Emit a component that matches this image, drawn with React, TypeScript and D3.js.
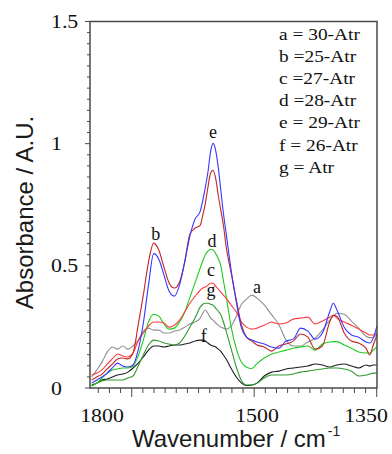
import React from 'react';
import * as d3 from 'd3';

const wavenumbers = [1820,1810,1800,1790,1780,1770,1760,1750,1740,1730,1720,1710,1700,1690,1680,1670,1660,1650,1640,1630,1620,1610,1605,1600,1595,1590,1585,1580,1575,1570,1565,1560,1550,1540,1530,1520,1510,1500,1490,1480,1470,1460,1450,1440,1430,1420,1410,1400,1395,1390,1380,1370,1360,1350,1345,1340,1335];

const seriesA = [0.045,0.074,0.106,0.147,0.168,0.159,0.172,0.159,0.172,0.196,0.233,0.245,0.237,0.237,0.225,0.225,0.233,0.237,0.249,0.262,0.270,0.286,0.306,0.319,0.306,0.286,0.278,0.266,0.257,0.249,0.245,0.241,0.253,0.294,0.343,0.364,0.380,0.368,0.340,0.300,0.260,0.196,0.172,0.172,0.188,0.204,0.237,0.278,0.294,0.306,0.302,0.274,0.245,0.212,0.206,0.208,0.221];
const seriesB = [0.033,0.045,0.057,0.078,0.098,0.119,0.123,0.119,0.143,0.257,0.380,0.515,0.593,0.564,0.494,0.429,0.409,0.433,0.515,0.629,0.654,0.666,0.707,0.756,0.821,0.879,0.891,0.858,0.789,0.727,0.666,0.584,0.470,0.360,0.257,0.208,0.192,0.176,0.168,0.151,0.172,0.180,0.192,0.221,0.208,0.159,0.172,0.270,0.298,0.294,0.225,0.192,0.184,0.163,0.135,0.176,0.217];
const seriesC = [0.053,0.061,0.074,0.098,0.119,0.139,0.131,0.127,0.143,0.192,0.225,0.253,0.270,0.270,0.266,0.249,0.257,0.278,0.311,0.347,0.375,0.400,0.409,0.413,0.421,0.429,0.429,0.417,0.405,0.392,0.380,0.368,0.339,0.311,0.270,0.249,0.241,0.245,0.257,0.270,0.262,0.266,0.282,0.286,0.290,0.262,0.274,0.290,0.298,0.286,0.270,0.257,0.241,0.225,0.217,0.217,0.225];
const seriesD = [0.008,0.020,0.041,0.061,0.074,0.078,0.082,0.082,0.090,0.131,0.196,0.270,0.302,0.294,0.262,0.241,0.245,0.270,0.310,0.370,0.430,0.490,0.520,0.545,0.560,0.568,0.566,0.550,0.530,0.500,0.440,0.380,0.250,0.160,0.105,0.085,0.080,0.100,0.123,0.139,0.147,0.155,0.163,0.168,0.172,0.155,0.180,0.188,0.190,0.190,0.176,0.163,0.147,0.143,0.143,0.155,0.168];
const seriesE = [0.020,0.033,0.045,0.061,0.082,0.102,0.090,0.086,0.094,0.155,0.266,0.421,0.550,0.527,0.462,0.396,0.376,0.421,0.515,0.621,0.691,0.723,0.768,0.821,0.883,0.965,1.001,0.973,0.903,0.809,0.715,0.638,0.482,0.351,0.245,0.208,0.196,0.188,0.180,0.168,0.163,0.192,0.200,0.245,0.233,0.200,0.225,0.311,0.347,0.319,0.249,0.217,0.208,0.188,0.184,0.204,0.253];
const seriesF = [0.012,0.020,0.033,0.037,0.045,0.053,0.057,0.065,0.082,0.102,0.127,0.155,0.172,0.172,0.168,0.172,0.176,0.176,0.180,0.184,0.192,0.196,0.196,0.192,0.184,0.176,0.172,0.168,0.159,0.150,0.135,0.120,0.080,0.045,0.020,0.010,0.012,0.020,0.049,0.065,0.069,0.078,0.082,0.086,0.090,0.098,0.094,0.086,0.090,0.094,0.098,0.090,0.082,0.094,0.090,0.094,0.094];
const seriesG = [0.008,0.020,0.029,0.033,0.033,0.033,0.033,0.041,0.049,0.090,0.135,0.176,0.196,0.192,0.184,0.180,0.176,0.184,0.212,0.249,0.286,0.331,0.343,0.347,0.347,0.343,0.339,0.327,0.315,0.300,0.270,0.235,0.160,0.085,0.030,0.012,0.012,0.020,0.041,0.053,0.053,0.053,0.057,0.065,0.069,0.074,0.078,0.082,0.082,0.082,0.078,0.069,0.049,0.053,0.057,0.061,0.061];

const seriesKeys = ['a', 'f', 'g', 'd', 'c', 'b', 'e'];
const seriesValues = [seriesA, seriesF, seriesG, seriesD, seriesC, seriesB, seriesE];
const seriesColors = ['#8f8f8f', '#1e1e1e', '#2e9a2e', '#1ccc1c', '#ff3a3a', '#c42424', '#3636ff'];

const legendLines = ['a = 30-Atr', 'b =25-Atr', 'c =27-Atr', 'd =28-Atr', 'e = 29-Atr', 'f = 26-Atr', 'g = Atr'];

const curveLabels = ['b', 'e', 'd', 'c', 'g', 'f', 'a'];
const curveLabelX = [1696, 1585, 1587, 1589, 1589, 1603, 1500];
const curveLabelY = [0.605, 1.022, 0.576, 0.46, 0.378, 0.188, 0.388];

const xTickValues = [1800, 1500, 1350];
const yTickValues = [0, 0.5, 1, 1.5];
const yTickLabels = ['0', '0.5', '1', '1.5'];

const W = 392;
const H = 454;
const plot = { left: 90, right: 377, top: 21.5, bottom: 388 };
const serif = '"Liberation Serif", "Times New Roman", Times, serif';
const sans = '"Liberation Sans", Arial, Helvetica, sans-serif';

export default function App() {
  const x = d3.scaleLinear().domain([1800, 1500, 1350]).range([102, 257, 366]);
  const y = d3.scaleLinear().domain([0, 1.5]).range([plot.bottom, plot.top]);
  const tickIdx = d3.scaleLinear().domain([0, 25]).range([98.3, 376.7]);
  const xMinor = d3.range(26);
  const xMajor = new Set([3, 14, 25]);
  const yMinor = d3.range(34).map((i) => (i * 0.5) / 11);

  const line = d3
    .line<[number, number]>()
    .x((d) => x(d[0]))
    .y((d) => y(d[1]))
    .curve(d3.curveMonotoneX);

  return (
    <svg width={W} height={H} style={{ position: 'absolute', left: 0, top: 0, background: '#fff' }}>
      <rect x={0} y={0} width={W} height={H} fill="#fff" />
      {seriesValues.map((vals, i) => (
        <path
          key={seriesKeys[i]}
          d={line(wavenumbers.map((w, j) => [w, vals[j]] as [number, number])) || ''}
          fill="none"
          stroke={seriesColors[i]}
          strokeWidth={1.1}
        />
      ))}
      <rect
        x={plot.left}
        y={plot.top}
        width={plot.right - plot.left}
        height={plot.bottom - plot.top}
        fill="none"
        stroke="#4a4a4a"
        strokeWidth={1.5}
      />
      {xMinor.map((i) => (
        <line
          key={'xt' + i}
          x1={tickIdx(i)}
          x2={tickIdx(i)}
          y1={plot.bottom}
          y2={plot.bottom + (xMajor.has(i) ? 9 : 5)}
          stroke="#4a4a4a"
          strokeWidth={1}
        />
      ))}
      {yMinor.map((v, i) => (
        <line
          key={'yt' + i}
          x1={plot.left}
          x2={plot.left - (i % 11 === 0 ? 5 : 3)}
          y1={y(v)}
          y2={y(v)}
          stroke="#4a4a4a"
          strokeWidth={1}
        />
      ))}
      {xTickValues.map((v) => (
        <text
          key={'xl' + v}
          transform={`translate(${x(v)},422) scale(1.12,1)`}
          textAnchor="middle"
          fontFamily={serif}
          fontSize={19.5}
          fill="#111"
        >
          {String(v)}
        </text>
      ))}
      {yTickValues.map((v, i) => (
        <text
          key={'yl' + v}
          transform={`translate(51,${y(v) + 6.5}) scale(1.12,1)`}
          textAnchor="start"
          fontFamily={serif}
          fontSize={19.5}
          fill="#111"
        >
          {yTickLabels[i]}
        </text>
      ))}
      {legendLines.map((t, i) => (
        <text
          key={'lg' + i}
          transform={`translate(279,${40 + i * 22.1}) scale(1.14,1)`}
          fontFamily={serif}
          fontSize={17}
          fill="#111"
        >
          {t}
        </text>
      ))}
      {curveLabels.map((t, i) => (
        <text
          key={'cl' + i}
          x={x(curveLabelX[i])}
          y={y(curveLabelY[i])}
          textAnchor="middle"
          fontFamily={serif}
          fontSize={18}
          fill="#111"
        >
          {t}
        </text>
      ))}
      <text
        transform="translate(33,212.5) rotate(-90)"
        textAnchor="middle"
        fontFamily={sans}
        fontSize={24}
        fill="#1a1a1a"
      >
        Absorbance / A.U.
      </text>
      <text x={132} y={447} fontFamily={sans} fontSize={24} fill="#1a1a1a">
        Wavenumber / cm
        <tspan fontSize={14} dx={2} dy={-11}>
          -1
        </tspan>
      </text>
    </svg>
  );
}
